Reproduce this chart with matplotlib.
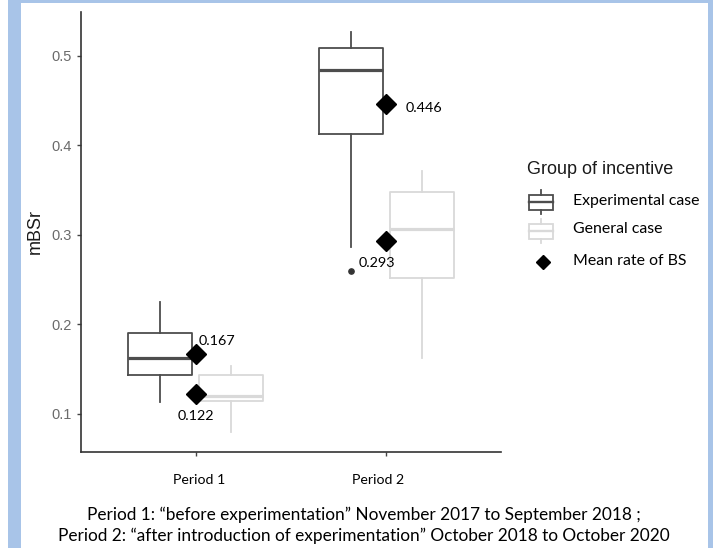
import matplotlib

matplotlib.use("Agg")
import matplotlib.pyplot as plt
import matplotlib.transforms as mtransforms
from matplotlib.lines import Line2D
from matplotlib.patches import Rectangle

# --- data ---
periods = ["Period 1", "Period 2"]
groups = ["Experimental case", "General case"]

# box summaries, one value per period
exp_whislo = [0.113, 0.287]
exp_q1 = [0.144, 0.413]
exp_med = [0.163, 0.484]
exp_q3 = [0.190, 0.509]
exp_whishi = [0.225, 0.527]
exp_fliers = [[], [0.260]]

gen_whislo = [0.080, 0.163]
gen_q1 = [0.114, 0.252]
gen_med = [0.120, 0.307]
gen_q3 = [0.143, 0.348]
gen_whishi = [0.154, 0.371]
gen_fliers = [[], []]

# mean rate of BS per period
mean_exp = [0.167, 0.446]
mean_gen = [0.122, 0.293]

yticks = [0.1, 0.2, 0.3, 0.4, 0.5]

caption = (
    "Period 1: \u201cbefore experimentation\u201d November 2017 to September 2018 ;\n"
    "Period 2: \u201cafter introduction of experimentation\u201d October 2018 to October 2020"
)

W, H = 713, 548
EXP_COLOR = "#4d4d4d"
GEN_COLOR = "#d9d9d9"
FRAME_COLOR = "#a8c4e8"
WORD_FONT = "Lato"
GG_FONT = "Liberation Sans"


def make_stats(whislo, q1, med, q3, whishi, fliers):
    return [
        dict(whislo=whislo[i], q1=q1[i], med=med[i], q3=q3[i], whishi=whishi[i], fliers=fliers[i])
        for i in range(len(periods))
    ]


def fx(x):
    return x / W


def fy(y):
    return 1 - y / H


fig = plt.figure(figsize=(W / 100, H / 100), dpi=100)
ax = fig.add_axes([fx(81), 96 / H, 420 / W, 440 / H])

centers = [i + 1 for i in range(len(periods))]
dodge = 0.186
box_w = 0.336

for stats, color, shift in [
    (make_stats(exp_whislo, exp_q1, exp_med, exp_q3, exp_whishi, exp_fliers), EXP_COLOR, -dodge),
    (make_stats(gen_whislo, gen_q1, gen_med, gen_q3, gen_whishi, gen_fliers), GEN_COLOR, dodge),
]:
    ax.bxp(
        stats,
        positions=[c + shift for c in centers],
        widths=box_w,
        showcaps=False,
        boxprops=dict(color=color, lw=1.3),
        whiskerprops=dict(color=color, lw=1.3),
        medianprops=dict(color=color, lw=2.3),
        flierprops=dict(marker="o", markersize=3.8, markerfacecolor="#333333",
                        markeredgecolor="#333333"),
        manage_ticks=False,
    )

# mean diamonds sit on the period centre
ax.plot(centers, mean_exp, "D", ms=10, color="black", zorder=5)
ax.plot(centers, mean_gen, "D", ms=10, color="black", zorder=5)

# value labels (offsets in points)
label_offsets_exp = [((2, 9.5), "left"), ((14, -3), "left")]
label_offsets_gen = [((0, -16), "center"), ((-20, -16), "left")]
for x, vals, offs in [(centers, mean_exp, label_offsets_exp), (centers, mean_gen, label_offsets_gen)]:
    for xi, v, (off, ha) in zip(x, vals, offs):
        ax.annotate(f"{v:.3f}", (xi, v), xytext=off, textcoords="offset points",
                    ha=ha, va="center", fontsize=10.4, family=WORD_FONT, color="black")

ax.set_xlim(0.4, 2.6)
ax.set_ylim(0.0575, 0.549)
ax.set_yticks(yticks)
ax.set_yticklabels([f"{t:.1f}" for t in yticks], family=GG_FONT, fontsize=10.5, color="#6b6b6b")
ax.set_xticks(centers)
ax.set_xticklabels(periods, family=WORD_FONT, fontsize=10.2, color="black")
ax.tick_params(axis="both", length=3, width=1, color="#444444")
ax.tick_params(axis="y", pad=3.5)
ax.tick_params(axis="x", pad=13)
# period labels are not quite centred on their ticks in the original
for lab, dx in zip(ax.get_xticklabels(), [4, -8]):
    lab.set_transform(lab.get_transform() + mtransforms.ScaledTranslation(dx / 100, 0, fig.dpi_scale_trans))

for side in ["top", "right"]:
    ax.spines[side].set_visible(False)
for side in ["left", "bottom"]:
    ax.spines[side].set_color("#333333")
    ax.spines[side].set_linewidth(1.2)

fig.text(fx(35), fy(232), "mBSr", family=GG_FONT, fontsize=13, color="#1a1a1a",
         rotation=90, ha="center", va="center")

# --- legend, drawn by hand to match the ggplot key glyphs ---
fig.text(fx(527), fy(170), "Group of incentive", family=GG_FONT, fontsize=13,
         color="#1a1a1a", va="center", ha="left")
for label, color, yc in [(groups[0], EXP_COLOR, 202), (groups[1], GEN_COLOR, 231)]:
    fig.add_artist(Rectangle((fx(529), fy(yc + 7.5)), 24 / W, 15 / H, transform=fig.transFigure,
                             fill=False, edgecolor=color, lw=1.3))
    fig.add_artist(Line2D([fx(529), fx(553)], [fy(yc), fy(yc)], transform=fig.transFigure,
                          color=color, lw=1.7))
    fig.add_artist(Line2D([fx(541), fx(541)], [fy(yc - 12), fy(yc - 7.5)], transform=fig.transFigure,
                          color=color, lw=1.3))
    fig.add_artist(Line2D([fx(541), fx(541)], [fy(yc + 7.5), fy(yc + 12)], transform=fig.transFigure,
                          color=color, lw=1.3))
    fig.text(fx(573), fy(yc - 1.5), label, family=WORD_FONT, fontsize=11.4, va="center", ha="left")
fig.add_artist(Line2D([fx(543)], [fy(262)], transform=fig.transFigure, marker="D", ms=7.3,
                      color="black", lw=0))
fig.text(fx(573), fy(261), "Mean rate of BS", family=WORD_FONT, fontsize=11.4, va="center", ha="left")

# caption under the chart
fig.text(fx(364), fy(525.5), caption, family=WORD_FONT, fontsize=12.4, ha="center", va="center",
         linespacing=1.35)

# light blue frame around the figure
for x0, y0, w, h in [(8, 0, 13, H), (8, 0, W - 8, 3), (708, 0, 5, H)]:
    fig.add_artist(Rectangle((fx(x0), fy(y0 + h)), w / W, h / H, transform=fig.transFigure,
                             color=FRAME_COLOR, lw=0))

fig.savefig("out.png", dpi=100)
